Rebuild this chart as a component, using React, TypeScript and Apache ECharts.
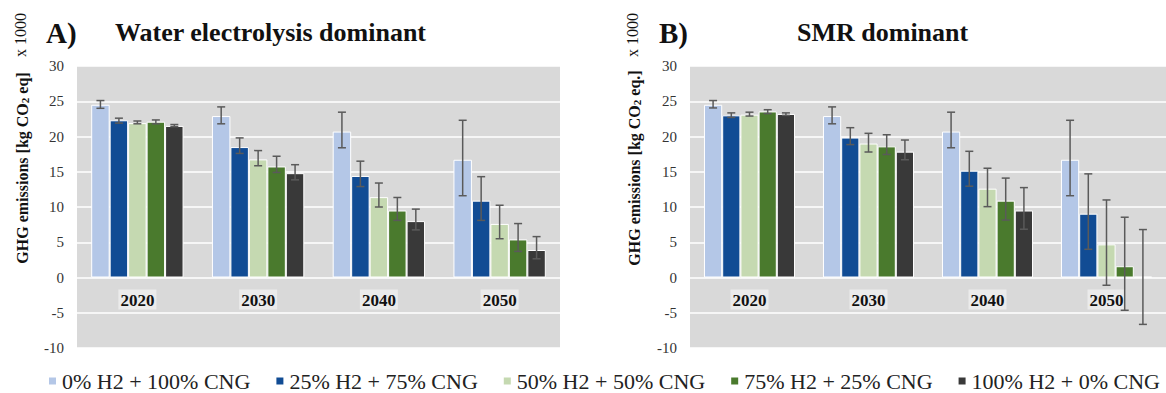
import React, { useEffect, useRef } from "react";
import * as echarts from "echarts";

const categories = ["2020", "2030", "2040", "2050"];
const seriesNames = [
  "0% H2 + 100% CNG",
  "25% H2 + 75% CNG",
  "50% H2 + 50% CNG",
  "75% H2 + 25% CNG",
  "100% H2 + 0% CNG",
];
const colors = ["#b4c7e7", "#114c94", "#c5d9b1", "#4a7a2d", "#393939"];

const yMin = -10;
const yMax = 30;
const yStep = 5;

// Panel A: Water electrolysis dominant (rows = series, cols = categories)
const aMean = [
  [24.5, 22.9, 20.7, 16.7],
  [22.3, 18.5, 14.4, 10.9],
  [21.9, 16.75, 11.4, 7.6],
  [22.1, 15.75, 9.5, 5.4],
  [21.5, 14.8, 8.0, 3.9],
];
const aLow = [
  [24.0, 21.8, 18.4, 11.6],
  [21.9, 17.6, 12.9, 8.1],
  [21.8, 15.85, 10.0, 5.5],
  [21.8, 14.9, 8.1, 3.7],
  [21.4, 13.85, 6.75, 2.65],
];
const aHigh = [
  [25.1, 24.2, 23.45, 22.3],
  [22.6, 19.8, 16.5, 14.3],
  [22.2, 18.0, 13.4, 10.25],
  [22.35, 17.2, 11.35, 7.65],
  [21.7, 16.0, 9.7, 5.8],
];

// Panel B: SMR dominant
const bMean = [
  [24.5, 22.9, 20.7, 16.7],
  [23.0, 19.85, 15.15, 9.05],
  [23.1, 19.0, 12.6, 4.7],
  [23.55, 18.6, 10.9, 1.6],
  [23.2, 17.85, 9.5, 0.1],
];
const bLow = [
  [24.05, 21.8, 18.4, 11.6],
  [22.7, 18.85, 12.95, 4.0],
  [22.9, 17.8, 10.05, -1.1],
  [23.25, 17.45, 8.15, -4.65],
  [23.0, 16.7, 6.85, -6.65],
];
const bHigh = [
  [25.1, 24.2, 23.45, 22.3],
  [23.35, 21.25, 17.9, 14.7],
  [23.45, 20.45, 15.5, 11.0],
  [23.8, 20.25, 14.1, 8.55],
  [23.35, 19.5, 12.75, 6.8],
];

const GAP = 0.235;
const FAM = "Liberation Serif";
const FONT = "'Liberation Serif', 'Times New Roman', serif";
const GRID_TOP = 66;
const GRID_H = 282;

function errData(low: number[][], high: number[][]) {
  const out: number[][] = [];
  for (let s = 0; s < low.length; s++) {
    for (let c = 0; c < categories.length; c++) {
      out.push([c, s, low[s][c], high[s][c]]);
    }
  }
  return out;
}

const renderErr = (_params: any, api: any) => {
  const c = api.value(0);
  const s = api.value(1);
  const lo = api.value(2);
  const hi = api.value(3);
  const band = api.size([1, 0])[0];
  const bw = (band * (1 - GAP)) / 5;
  const x = api.coord([c, 0])[0] + (s - 2) * bw;
  const yHi = api.coord([c, hi])[1];
  const yLo = api.coord([c, lo])[1];
  const cap = 4;
  const style = { stroke: "#5a5a5a", lineWidth: 1.5 };
  return {
    type: "group",
    children: [
      { type: "line", shape: { x1: x, y1: yHi, x2: x, y2: yLo }, style },
      { type: "line", shape: { x1: x - cap, y1: yHi, x2: x + cap, y2: yHi }, style },
      { type: "line", shape: { x1: x - cap, y1: yLo, x2: x + cap, y2: yLo }, style },
    ],
  };
};

function barSeries(mean: number[][], idx: number) {
  return mean.map((vals, s) => ({
    type: "bar",
    name: seriesNames[s],
    xAxisIndex: idx,
    yAxisIndex: idx,
    data: vals,
    barGap: "0%",
    barCategoryGap: GAP * 100 + "%",
    itemStyle: { color: colors[s], borderColor: "#ffffff", borderWidth: 1 },
    z: 2,
  }));
}

function yAxis(idx: number) {
  return {
    type: "value",
    gridIndex: idx,
    min: yMin,
    max: yMax,
    interval: yStep,
    axisLine: { show: false },
    axisTick: { show: false },
    axisLabel: { fontFamily: FAM, fontSize: 15, color: "#333", margin: 13 },
    splitLine: { lineStyle: { color: "#ffffff", width: 1.5 } },
  };
}

// distance from the bottom of the grid up to the zero line
const zeroOffset = (GRID_H * (0 - yMin)) / (yMax - yMin);

function xAxis(idx: number) {
  return {
    type: "category",
    gridIndex: idx,
    data: categories,
    position: "bottom",
    offset: -zeroOffset,
    axisLine: { show: false, onZero: false },
    axisTick: { show: false },
    axisLabel: {
      fontFamily: FAM,
      fontSize: 17,
      fontWeight: "bold",
      color: "#111",
      margin: 12,
      backgroundColor: "#ebebeb",
      padding: [2, 2, 1, 2],
    },
  };
}

function yName(x: number, text: string) {
  return {
    type: "text",
    x,
    y: 168,
    rotation: Math.PI / 2,
    style: {
      text,
      align: "center",
      verticalAlign: "middle",
      textAlign: "center",
      textVerticalAlign: "middle",
      fill: "#111",
      font: `bold 16px ${FONT}`,
      rich: {
        b: { fontFamily: FAM, fontSize: 16, fontWeight: "bold", fill: "#111" },
        s: {
          fontFamily: FAM,
          fontSize: 11,
          fontWeight: "bold",
          fill: "#111",
          verticalAlign: "bottom",
          padding: [6, 0, 0, 0],
        },
      },
    },
  };
}

function smallText(x: number, y: number, text: string, rot: number, size: number, bold: boolean) {
  return {
    type: "text",
    x,
    y,
    rotation: rot,
    style: {
      text,
      font: `${bold ? "bold " : ""}${size}px ${FONT}`,
      align: rot ? "center" : "left",
      textAlign: rot ? "center" : "left",
      verticalAlign: "middle",
      textVerticalAlign: "middle",
      fill: "#111",
    },
  };
}

export default function App() {
  const ref = useRef<HTMLDivElement>(null);
  useEffect(() => {
    document.body.style.margin = "0";
    if (!ref.current) return;
    const chart = echarts.init(ref.current, null, { renderer: "svg" });
    chart.setOption({
      animation: false,
      backgroundColor: "#ffffff",
      textStyle: { fontFamily: FAM },
      grid: [
        { left: 77, top: GRID_TOP, width: 483, height: GRID_H, show: true, backgroundColor: "#d9d9d9", borderWidth: 0 },
        { left: 690, top: GRID_TOP, width: 481, height: GRID_H, show: true, backgroundColor: "#d9d9d9", borderWidth: 0 },
      ],
      xAxis: [xAxis(0), xAxis(1)],
      yAxis: [yAxis(0), yAxis(1)],
      legend: {
        data: seriesNames,
        left: 42,
        top: 365,
        icon: "rect",
        itemWidth: 9,
        itemHeight: 9,
        itemGap: 24,
        textStyle: { fontFamily: FAM, fontSize: 22, color: "#222" },
      },
      graphic: [
        smallText(46, 33, "A)", 0, 29, true),
        smallText(115, 32, "Water electrolysis dominant", 0, 26, true),
        smallText(659, 33, "B)", 0, 29, true),
        smallText(797, 32, "SMR dominant", 0, 26, true),
        yName(22, "{b|GHG emissions [kg CO}{s|2}{b| eq]}"),
        yName(634, "{b|GHG emissions [kg CO}{s|2}{b| eq.]}"),
        smallText(20, 35, "x 1000", Math.PI / 2, 16, false),
        smallText(632, 35, "x 1000", Math.PI / 2, 16, false),
      ],
      series: [
        ...barSeries(aMean, 0),
        ...barSeries(bMean, 1),
        {
          type: "custom",
          xAxisIndex: 0,
          yAxisIndex: 0,
          renderItem: renderErr,
          data: errData(aLow, aHigh),
          encode: { x: 0, y: [2, 3] },
          z: 5,
          silent: true,
        },
        {
          type: "custom",
          xAxisIndex: 1,
          yAxisIndex: 1,
          renderItem: renderErr,
          data: errData(bLow, bHigh),
          encode: { x: 0, y: [2, 3] },
          z: 5,
          silent: true,
        },
      ],
    });
    return () => chart.dispose();
  }, []);
  return (
    <div
      ref={ref}
      style={{ width: 1166, height: 393, position: "absolute", left: 0, top: 0 }}
    />
  );
}
